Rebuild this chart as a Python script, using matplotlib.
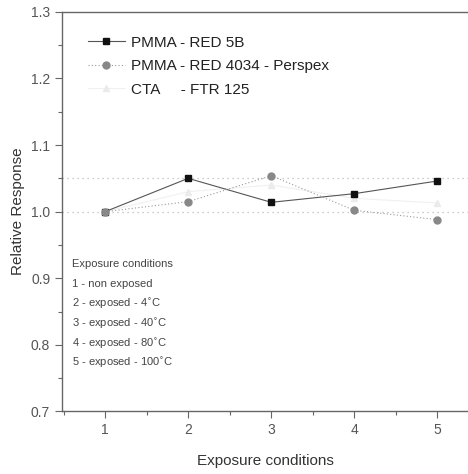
import matplotlib
matplotlib.use("Agg")
import matplotlib.pyplot as plt
from matplotlib.ticker import MultipleLocator

plt.rcParams["font.family"] = ["Liberation Sans Narrow", "Liberation Sans", "DejaVu Sans"]

conditions = [1, 2, 3, 4, 5]
red_5b = [1.000, 1.050, 1.014, 1.027, 1.046]
red_4034 = [1.000, 1.015, 1.054, 1.002, 0.988]
cta_ftr125 = [1.000, 1.030, 1.040, 1.020, 1.013]
ref_levels = [1.00, 1.05]

series_labels = ["PMMA - RED 5B", "PMMA - RED 4034 - Perspex", "CTA     - FTR 125"]
notes = [
    "Exposure conditions",
    "1 - non exposed",
    "2 - exposed - 4$^{\\circ}$C",
    "3 - exposed - 40$^{\\circ}$C",
    "4 - exposed - 80$^{\\circ}$C",
    "5 - exposed - 100$^{\\circ}$C",
]

fig = plt.figure(figsize=(4.68, 4.74), dpi=100)
ax = fig.add_axes([0.1325, 0.132, 0.8675, 0.843])

for lvl in ref_levels:
    ax.axhline(lvl, color="#bbbbbb", lw=0.9, ls=(0, (1, 3)), zorder=1)

ax.plot(conditions, red_5b, color="#555555", lw=0.8, marker="s", ms=5,
        mfc="#111111", mec="#111111", label=series_labels[0], zorder=3)
ax.plot(conditions, red_4034, color="#999999", lw=0.8, ls=(0, (1, 2)), marker="o", ms=5,
        mfc="#888888", mec="#888888", label=series_labels[1], zorder=3)
ax.plot(conditions, cta_ftr125, color="#f0f0f0", lw=0.8, marker="^", ms=5,
        mfc="#ebebeb", mec="#ebebeb", label=series_labels[2], zorder=2)

ax.set_xlim(0.48, 5.37)
ax.set_ylim(0.7, 1.3)
ax.xaxis.set_major_locator(MultipleLocator(1))
ax.xaxis.set_minor_locator(MultipleLocator(0.5))
ax.yaxis.set_major_locator(MultipleLocator(0.1))
ax.yaxis.set_minor_locator(MultipleLocator(0.05))
ax.yaxis.set_major_formatter(matplotlib.ticker.FormatStrFormatter("%.1f"))

for side in ["left", "bottom", "top"]:
    ax.spines[side].set_color("#666666")
    ax.spines[side].set_linewidth(1.0)
ax.spines["right"].set_visible(False)
ax.tick_params(which="major", direction="out", length=5, width=0.8, colors="#666666",
               labelsize=10, labelcolor="#555555")
ax.tick_params(which="minor", direction="out", length=3, width=0.8, colors="#666666")

ax.set_xlabel("Exposure conditions", fontsize=11, color="#333333", labelpad=12)
ax.set_ylabel("Relative Response", fontsize=11, color="#333333", labelpad=4)

leg = ax.legend(loc="upper left", bbox_to_anchor=(0.03, 0.975), frameon=False,
                fontsize=11, handlelength=2.4, handletextpad=0.4, labelspacing=0.62)
for txt in leg.get_texts():
    txt.set_color("#222222")

for i, line in enumerate(notes):
    ax.text(0.025, 0.368 - i * 0.0495, line, transform=ax.transAxes,
            fontsize=8, color="#444444", va="center", ha="left")

fig.savefig("out.png", dpi=100)
